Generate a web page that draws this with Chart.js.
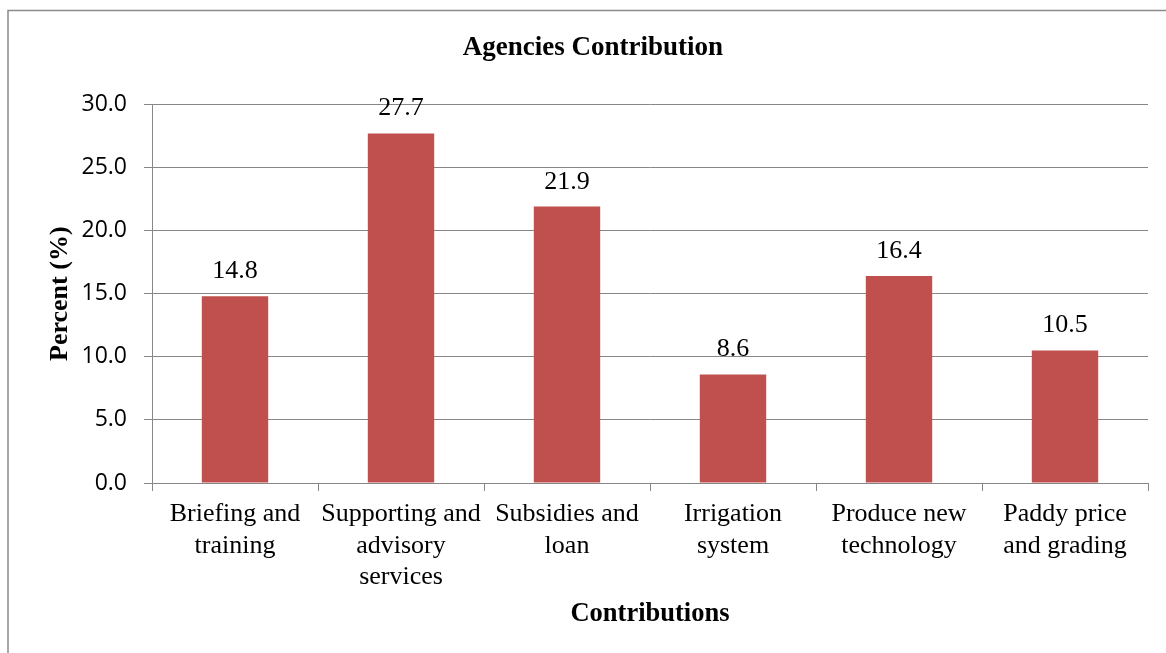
<!DOCTYPE html>
<html>
<head>
<meta charset="utf-8">
<script src="https://cdn.jsdelivr.net/npm/chart.js@4/dist/chart.umd.min.js"></script>
<style>
  html, body { margin: 0; padding: 0; background: #fff; }
  #wrap { width: 1166px; height: 653px; position: relative; }
</style>
</head>
<body>
<div id="wrap"><canvas id="myChart" width="1166" height="653"></canvas></div>
<script>
// 차트 데이터
const categories = [
    ['Briefing and', 'training'],
    ['Supporting and', 'advisory', 'services'],
    ['Subsidies and', 'loan'],
    ['Irrigation', 'system'],
    ['Produce new', 'technology'],
    ['Paddy price', 'and grading']
];
const percentValues = [14.8, 27.7, 21.9, 8.6, 16.4, 10.5];
const yTicks = [0, 5, 10, 15, 20, 25, 30];

const serif = '"Liberation Serif", "Times New Roman", serif';
const gridGray = '#878787';

// 바깥 테두리 (왼쪽, 위쪽)
const frameBorder = {
    id: 'frameBorder',
    beforeDraw(chart) {
        const c = chart.ctx;
        c.save();
        c.fillStyle = '#fff';
        c.fillRect(0, 0, chart.width, chart.height);
        c.strokeStyle = '#8a8a8a';
        c.lineWidth = 1.5;
        c.beginPath();
        c.moveTo(8, chart.height);
        c.lineTo(8, 10.5);
        c.lineTo(chart.width, 10.5);
        c.stroke();
        c.restore();
    }
};

// 막대 위 값 표시
const valueLabels = {
    id: 'valueLabels',
    afterDatasetsDraw(chart) {
        const c = chart.ctx;
        const meta = chart.getDatasetMeta(0);
        c.save();
        c.font = '26px ' + serif;
        c.fillStyle = '#000';
        c.textAlign = 'center';
        c.textBaseline = 'alphabetic';
        meta.data.forEach((bar, i) => {
            c.fillText(percentValues[i].toFixed(1), bar.x, bar.y - 18);
        });
        c.restore();
    }
};

const ctx = document.getElementById('myChart').getContext('2d');
const myChart = new Chart(ctx, {
    type: 'bar',
    data: {
        labels: categories,
        datasets: [{
            label: 'Percent',
            data: percentValues,
            backgroundColor: '#C0504D',
            borderWidth: 0,
            barPercentage: 0.4,
            categoryPercentage: 1.0
        }]
    },
    options: {
        responsive: false,
        animation: false,
        devicePixelRatio: 1,
        layout: { padding: { left: 38, right: 18, top: 0, bottom: 0 } },
        plugins: {
            legend: { display: false },
            tooltip: { enabled: false },
            title: {
                display: true,
                text: 'Agencies Contribution',
                color: '#000',
                font: { family: serif, size: 27, weight: 'bold' },
                padding: { top: 32, bottom: 40 }
            }
        },
        scales: {
            x: {
                offset: true,
                grid: {
                    display: true,
                    drawOnChartArea: false,
                    drawTicks: true,
                    tickLength: 8,
                    color: gridGray
                },
                border: { display: true, color: gridGray },
                ticks: {
                    color: '#000',
                    font: { family: serif, size: 26, lineHeight: 1.2 },
                    padding: 8,
                    maxRotation: 0,
                    autoSkip: false
                },
                title: {
                    display: true,
                    text: 'Contributions',
                    color: '#000',
                    font: { family: serif, size: 26.5, weight: 'bold' },
                    padding: { top: 0, bottom: 23 }
                },
                afterFit(scale) { scale.height = 170; }
            },
            y: {
                min: 0,
                max: 30,
                afterBuildTicks(scale) {
                    scale.ticks = yTicks.map(v => ({ value: v }));
                },
                grid: {
                    color: gridGray,
                    tickLength: 8
                },
                border: { display: true, color: gridGray },
                ticks: {
                    color: '#000',
                    font: { family: '"Open Sans", sans-serif', size: 23 },
                    padding: 17,
                    callback: v => Number(v).toFixed(1)
                },
                title: {
                    display: true,
                    text: 'Percent (%)',
                    color: '#000',
                    font: { family: serif, size: 26, weight: 'bold' },
                    padding: { top: 7, bottom: 0 }
                },
                afterFit(scale) { scale.width = 114; }
            }
        }
    },
    plugins: [frameBorder, valueLabels]
});
</script>
</body>
</html>
